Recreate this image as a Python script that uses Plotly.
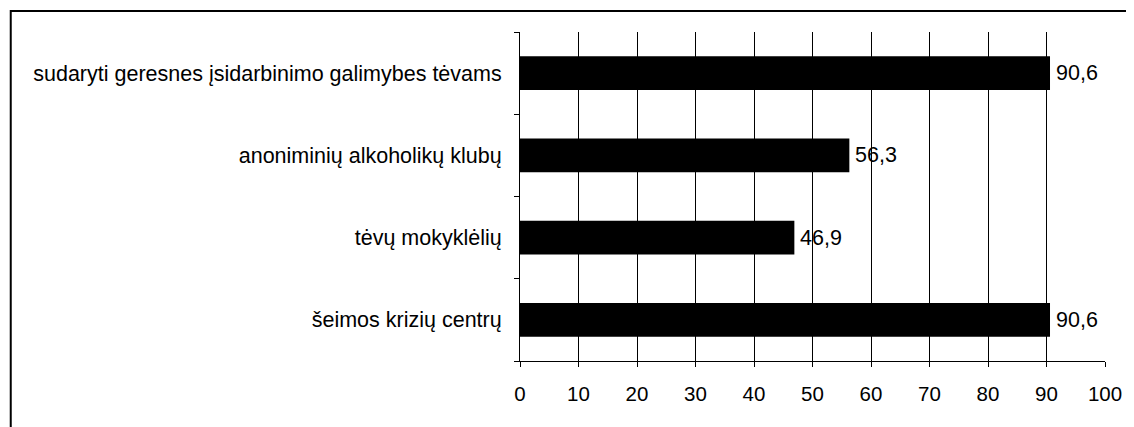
import plotly.graph_objects as go

categories = [
    "šeimos krizių centrų",
    "tėvų mokyklėlių",
    "anoniminių alkoholikų klubų",
    "sudaryti geresnes įsidarbinimo galimybes tėvams",
]
values = [90.6, 46.9, 56.3, 90.6]
labels = ["90,6", "46,9", "56,3", "90,6"]
x_ticks = [0, 10, 20, 30, 40, 50, 60, 70, 80, 90, 100]

# page body has an 8px default margin
W, H = 1126, 419
L, R, T, B = 512, 27, 24, 66
pw = W - L - R
ph = H - T - B

FONT = "Liberation Sans, Arial"

fig = go.Figure(go.Bar(
    y=categories, x=values, orientation="h",
    marker=dict(color="black", line=dict(width=0)),
    width=0.41,
))

for c, v, t in zip(categories, values, labels):
    fig.add_annotation(x=v, y=c, xref="x", yref="y", text=t, showarrow=False,
                       xanchor="left", yanchor="middle", xshift=4,
                       font=dict(family=FONT, size=21.5, color="black"))

fig.add_shape(type="rect", xref="paper", yref="paper",
              x0=(1 - L) / pw, x1=(W + 20 - L) / pw,
              y0=-(H + 20 - (H - B)) / ph, y1=((H - B) - 3) / ph,
              line=dict(color="black", width=2), fillcolor="rgba(0,0,0,0)", layer="below")

fig.update_layout(
    width=W, height=H,
    margin=dict(l=L, r=R, t=T, b=B, pad=0),
    paper_bgcolor="white", plot_bgcolor="white",
    font=dict(family=FONT, size=21.5, color="black"),
    showlegend=False,
    xaxis=dict(range=[0, 100], tickvals=x_ticks, showgrid=True, gridcolor="black", gridwidth=1,
               showline=True, linecolor="black", linewidth=1, ticks="outside", ticklen=5,
               tickcolor="black", zeroline=False, fixedrange=True,
               tickfont=dict(family=FONT, size=20.5, color="black"), ticklabelstandoff=9),
    yaxis=dict(showline=True, linecolor="black", linewidth=1, ticks="outside", ticklen=5,
               tickcolor="black", tickson="boundaries", showgrid=False, fixedrange=True,
               tickfont=dict(family=FONT, size=21.5, color="black"), ticklabelstandoff=13),
)

fig.write_html("out.html")
